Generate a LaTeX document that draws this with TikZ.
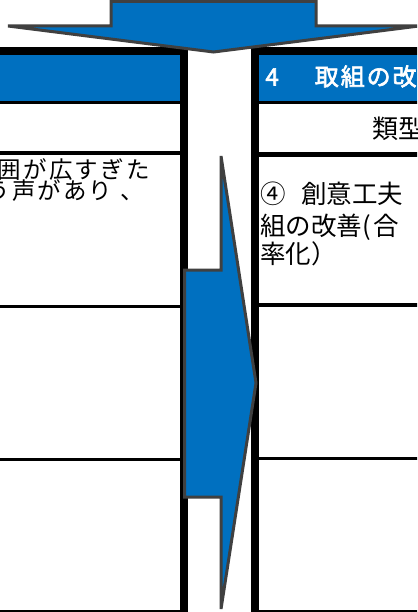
\documentclass[tikz,border=0pt]{standalone}
\usepackage{fontspec}
\newfontfamily\jp{Noto Sans CJK JP}
\newfontfamily\jpls[LetterSpace=9]{Noto Sans CJK JP}
\newfontfamily\jphd[LetterSpace=8,FakeBold=2.5]{Noto Sans CJK JP}
\definecolor{hdblue}{HTML}{0070C0}
\definecolor{arrgray}{HTML}{404040}
\begin{document}
\begin{tikzpicture}[x=1pt,y=-1pt,
  txt/.style={inner sep=0pt, outer sep=0pt, anchor=base west},
  border/.style={line width=8pt, draw=black, line join=miter},
  rule/.style={line width=3pt, draw=black},
  hdfill/.style={fill=hdblue},
  blockarrow/.style={fill=hdblue, draw=arrgray, line width=3pt, line join=miter}]
\useasboundingbox (0,0) rectangle (417,612);
\fill[white] (0,0) rectangle (417,612);
\clip (0,0) rectangle (417,612);

% left column
\fill[hdfill] (-10,55) rectangle (180,101);
\draw[rule] (-10,102.5) -- (180,102.5);
\draw[rule, line width=4pt] (-10,153) -- (180,153);
\draw[rule] (-10,306.5) -- (180,306.5);
\draw[rule] (-10,459) -- (180,459);
\draw[border] (-10,614) -- (184,614);
\draw[border] (-10,51) -- (184,51) -- (184,620);

% right column
\fill[hdfill] (259,55) rectangle (425,101);
\draw[rule] (259,102.5) -- (425,102.5);
\draw[rule, line width=4.5pt] (259,154.5) -- (425,154.5);
\draw[rule, line width=3.5pt] (259,305) -- (425,305);
\draw[rule] (259,458.5) -- (425,458.5);
\draw[border] (255,614) -- (425,614);
\draw[border] (425,51) -- (255,51) -- (255,620);

% texts
\node[txt, text=white, font=\jphd\fontsize{24}{24}\selectfont] (hd) at (265.5,85.5) {4\hspace*{36pt}取組の改};
\node[txt, font=\jp\fontsize{26}{26}\selectfont] (kind) at (372,138.3) {類型};
\node[txt, font=\jp\fontsize{25.5}{25.5}\selectfont] (r1) at (260,203.5) {④\hspace*{16pt}創意工夫};
\node[txt, font=\jp\fontsize{25.5}{25.5}\selectfont] (r2) at (260,235) {組の改善(\hspace*{3pt}合};
\node[txt, font=\jp\fontsize{25.5}{25.5}\selectfont] (r3) at (260,263.5) {率化）};
\node[txt, font=\jpls\fontsize{23.5}{23.5}\selectfont] (l1) at (-2,178.5) {囲が広すぎた};
\node[txt, font=\jpls\fontsize{23.5}{23.5}\selectfont] (l2) at (-13.5,200) {う声があり\hspace*{8pt}、};

% arrows
\draw[blockarrow] (111,1.3) -- (316,1.3) -- (316,26) -- (419,26) -- (213.5,52)
  -- (8,26) -- (111,26) -- cycle;
\draw[blockarrow] (184.5,270) -- (221,270) -- (221,156) -- (256,383) -- (221,609)
  -- (221,497) -- (184.5,497) -- cycle;
\end{tikzpicture}
\end{document}
